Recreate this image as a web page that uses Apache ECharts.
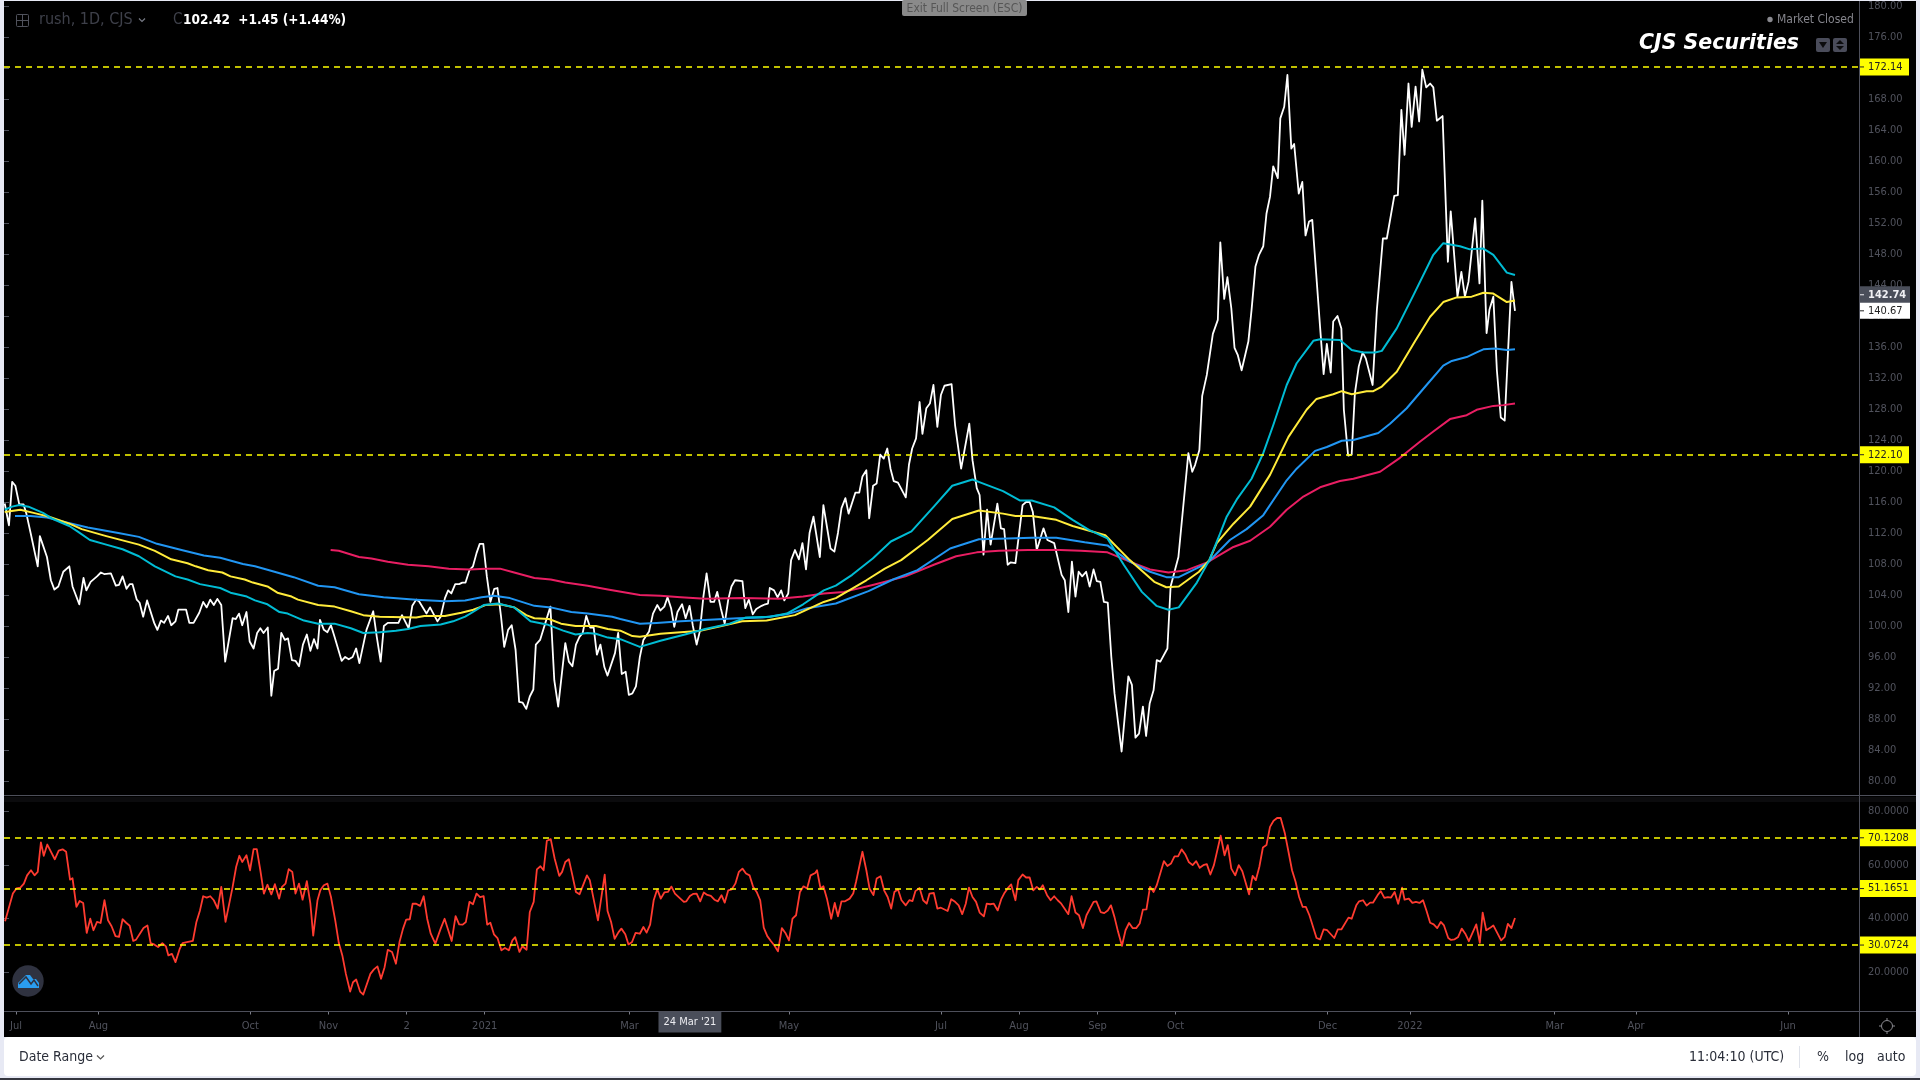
<!DOCTYPE html>
<html><head><meta charset="utf-8"><title>rush, 1D, CJS</title>
<style>html,body{margin:0;padding:0;background:#e7e9f4;overflow:hidden}#c{width:1920px;height:1080px}</style>
<script src="https://cdn.jsdelivr.net/npm/echarts@6/dist/echarts.min.js"></script></head>
<body><div id="c"></div>
<script>
// x unit: trading-day bar number
const tickBars=[3.4,26.6,69.4,91.4,113.4,135.4,176.2,193.2,221.1,263.9,285.9,308,330,372.8,396,436.8,459.7,502.5];
const tickLabels=["Jul","Aug","Oct","Nov","2","2021","Mar","24 Mar '21","May","Jul","Aug","Sep","Oct","Dec","2022","Mar","Apr","Jun"];
const priceTicks=[80,84,88,92,96,100,104,108,112,116,120,124,128,132,136,140,144,148,152,156,160,164,168,172,176,180];
const rsiTicks=[20,40,60,80];
const priceLevels=[172.14,122.10];
const rsiLevels=[70.1208,51.1651,30.0724];

const closeBars=[0.2,1.4,2.3,3.2,4.3,5.5,6.3,7.5,9.5,10.1,12.1,13.2,14.2,15.3,16.7,18.4,19.3,21.2,22.4,23.2,24.4,26.2,27.3,28.2,30.1,31.5,32.4,33.4,34.5,35.4,36.2,37.4,38.2,39.2,40.3,42.3,43.2,44.2,45.1,46.2,47.1,48.3,49.1,51.3,52.2,53.4,55,56.1,57.1,58.1,59.1,60.1,61.2,62.3,64.4,65.3,66.2,67.1,68.3,69.2,70.3,71.3,72.2,73.1,74.3,75.3,76.1,77.2,78.1,79.1,80,81.1,82.1,83.1,84.2,85.3,86.3,87.3,88.3,89,90.1,91.1,92.1,93.1,95.1,96.1,97.1,98.2,99.2,100.1,102.1,104,105,106.1,107,108.1,111.1,112.1,114,115,116.1,116.9,119,120,122.1,123,124.2,125.1,126,127.1,128.2,129.1,130,131.1,132.1,133.1,134,135,136,137,138.1,139,140,140.9,142,143,144.1,145.1,146.1,147.1,148.1,149.1,149.8,151,153.9,155,156.1,158.1,159.1,160.1,161.1,162.1,163,164,165.1,166.1,167,168,169.1,170,172.1,173,174,175.1,176,177,178,179.1,180.1,181.7,182.8,184,184.9,186,186.9,187.9,188.8,189.7,191,192,193.1,194,195.1,196,197,197.9,199,200,200.9,201.9,203,204,204.9,205.9,208,208.8,209.8,210.9,211.9,213.4,214.4,215.2,215.7,216.9,217.9,218.9,219.8,220.9,221.7,222.8,223.9,224.9,225.9,226.9,228,229.8,230.8,232.8,233.9,234.9,235.9,237,237.9,239.8,240.9,241.8,242.9,243.7,244.8,245.8,246.8,247.8,248.8,249.7,250.6,251.8,254,254.9,255.8,256.9,257.9,258.7,259.8,260.8,261.8,262.9,263.9,264.9,266.9,267.9,269.6,271.9,272.8,274,274.8,275.9,276.9,277.9,279.8,280.8,281.7,282.7,283.5,284.9,286.9,287.9,288.9,289.8,290.9,292.8,293.9,295.8,297.9,298.8,299.8,300.8,301.8,302.7,303.7,304.8,305.8,306.9,307.8,308.8,309.8,310.9,311.9,312.8,314.8,316.7,317.7,318.7,319.7,320.8,321.7,322.7,323.8,324.7,325.7,327.7,328.6,330.8,333.6,334.7,335.5,336.7,337.5,338.8,340.5,341.9,342.6,343.7,344.6,345.7,346.6,347.5,348.6,350.5,351.4,352.5,353.5,354.7,355.6,356.6,357.5,358.8,359.5,360.6,361.5,362.6,363.4,364.7,365.7,366.6,367.6,368.5,370.7,371.7,372.6,373.7,374.4,375.6,376.7,377.4,378.6,379.6,380.5,381.6,382.7,383.6,385.5,386.7,388.4,389.5,391.6,392.6,393.6,394.5,395.6,396.5,397.6,398.6,399.5,400.6,401.7,402.6,403.6,405.2,406.7,407.5,409.4,410.5,411.5,412.5,414.4,415.6,416.4,417.6,418.4,419.5,420.5,421.6,422.7,424.6,425.6];
const closeValues=[115.8,113,118.6,118.1,115.7,115.7,114.5,112,107.7,111.6,108.9,105.9,104.7,105.1,107,107.7,105.1,102.8,106.2,104.6,105.7,106.4,106.9,106.7,106.8,105.2,105.3,106.4,104.8,105.4,105.4,103.4,103,101.2,103.3,100.4,99.5,100.7,100.4,101.3,100.1,100.6,102.1,102.1,100.4,100.4,101.7,103.1,102.4,103.4,102.7,103.5,102.7,95.4,101,100.9,101.6,100.1,101.8,98,97.1,99.1,99.7,99.1,99.8,91,94.2,94.5,99.1,98.2,98.4,95.6,95.5,94.8,97.6,98.9,96.8,98.3,97.1,100.8,99.5,99.2,100.1,98.6,95.5,96,95.7,96,97.1,95.2,99.5,101.9,98.6,95.4,100,100.4,100.4,101.4,99.7,102.6,103.4,103.2,101.6,102.4,100.6,101.2,103.6,104.6,104.2,105.4,105.4,105.6,105.6,107.2,107.7,109.4,110.6,110.6,106.4,103.1,104.8,104.9,101.2,97.3,99.5,100.1,96.9,90.2,90.1,89.3,90.9,91.8,97.6,98.2,102.5,93,89.6,97.8,95.4,94.8,97.6,98.6,99.1,101.3,99.8,99.8,96.3,97.6,94.7,93.6,96.5,99.1,93.8,94.1,91.1,91.3,92.2,96,98.2,99.3,101.6,102.7,102,102.5,103.7,102.3,99.9,101.8,102.8,101,102.6,100.1,97.6,99.3,103.8,106.8,103.1,103.1,104.4,102.3,100.3,103.4,105.1,105.9,105.8,102.3,103.4,101.5,102.2,102.6,102.8,102.9,104.9,104.6,103.7,104.6,103.3,104.2,108.5,109.8,108.6,110.7,107.3,112,114.1,108.9,115.6,110,109.6,112,115.2,116.5,114.5,117.2,117.2,119.3,120.1,113.9,118.1,118.4,122.1,121.6,122.9,120.3,118.7,118.5,116.6,120.8,122.9,124.2,128.9,124.8,128.1,128.7,131.1,125.7,129.8,131,131.2,125.9,120.3,126.1,121.4,117.8,116.9,109.2,115,110.5,115.8,112.6,112.5,107.9,108.2,108.1,115.6,116,116,114.7,109.8,112.6,111.1,110.7,106.6,105.9,101.8,108.3,103.8,107,106.4,107,105.1,107.3,105.8,105.7,103.1,103,96,91.3,83.8,93.5,92.4,85.6,86.1,89.6,85.8,90,91.7,95.6,95.4,97.1,105.1,108.9,122.3,119.9,120.8,122.7,129.7,132.4,137.7,139.5,149.5,142.2,145,141,135.9,135,133,136.7,140.8,146.4,147.9,149,153.2,155.4,159.3,157.8,165.5,167,171.1,161.6,162.2,155.8,157.3,150.4,152.2,152.4,138.6,132.5,136.4,132.7,139.3,140,138.4,127.9,122,122.1,130,133.5,135.3,134.5,131.1,140.8,150,150,155.5,155.6,166.6,160.8,170,164.4,169.6,165.1,171.8,169.5,170,169.5,165.2,165.8,147,153.5,142.5,145.7,142.5,144.4,152.6,144.2,154.9,137.8,140.8,142.5,133,126.9,126.5,144.4,140.67];

const cyanBars=[0.2,2.3,4.3,6.9,11,13.8,18.4,20.7,24.2,28.8,33.4,38,42.5,48.3,51.7,55.2,60.9,63.8,68.4,70.7,74.2,77.6,79.9,84.5,88.5,93.1,97.7,101.2,105.8,110.4,113.8,117.3,123,126.5,129.9,132.8,135.1,139.1,143.7,148.3,152.9,157.5,161,164.4,166.7,170.1,173.6,179.1,184.9,191.8,197.5,204.4,209,215.9,220.5,225.1,230.9,234.3,238.9,244.7,249.8,255.6,261.9,267.1,272.8,275.1,281.4,286.1,289.5,295.8,301,305.6,310.8,315.4,320.5,324.6,328,330.9,336,339.5,342.5,344.4,347.2,351.4,354.7,357.5,361.3,364.1,368.8,370.7,376.3,379.6,382.9,386.2,388.1,392.3,397,402.6,405.4,410.1,412.9,416.7,419.5,423.3,425.6];
const cyanValues=[115,115.4,115.6,115.4,114.6,113.8,112.9,112.2,111.1,110.5,109.9,109,107.7,106.4,106,105.4,104.9,104.3,103.8,103.3,102.8,101.8,101.6,100.7,100.3,100.3,99.7,99.1,99.2,99.4,99.6,100,100.2,100.6,101.2,102,102.7,102.9,102.4,100.6,100.2,99.4,98.9,99.1,99,98.5,98.3,97.3,98.1,98.9,99.6,100.3,101.1,101.2,101.6,102.8,104.6,105.2,106.6,108.7,110.9,112.2,115.4,118.1,118.9,118.5,117.4,116.2,116.2,115.3,113.7,112.4,111.3,107.9,104.4,102.6,102.1,102.4,105.6,108.5,111.9,114.1,116.3,119,122.3,125.9,131.1,133.9,136.8,137,136.9,135.6,135.3,135.3,135.5,138.4,142.7,147.9,149.4,149,148.6,148.7,147.9,145.6,145.3];

const yellowBars=[0.2,4.6,9.2,12.7,18.4,21.9,28.8,38,42.5,47.1,51.7,54,57.5,61.5,63.8,67.8,70.1,74.2,77,81,82.8,88.5,93.1,97.7,101.2,105.8,116.1,118.4,124.2,128.8,132.2,135.6,139.7,143.7,147.1,149.4,153.5,156.9,161,166.7,170.1,173.6,177,179.1,184.9,190.6,196.4,202.1,207.9,214.8,222.8,230.9,234.3,242.9,248.1,252.7,260.2,267.1,274.6,281.4,284.9,289.5,296.4,301,310.2,317.1,324,327.4,330.9,336.6,339.5,341.6,346.3,351,356.6,361.8,366.9,369.7,374.4,376.8,379.6,383.8,385.7,388.1,392.3,397.4,401.7,405.4,409.2,413.4,416.7,419.5,423.3,425.6];
const yellowValues=[114.7,115,114.5,114.1,113.2,112.5,111.6,110.5,109.7,108.6,108.1,107.7,107.2,106.9,106.4,106,105.6,105.1,104.3,103.8,103.4,102.7,102.5,101.9,101.4,101.2,101.1,101.3,101.3,101.7,102.1,102.7,102.8,102.4,101.4,101,100.9,100.3,100,100,99.6,99.4,98.7,98.6,99,99.2,99.4,100,100.6,100.7,101.4,103.1,103.6,105.9,107.4,108.5,111.1,113.8,114.9,114.5,114.2,114.2,113.7,112.9,111.7,108.5,105.7,105,105.1,107,108.5,110.7,113.2,115.4,119.5,124.4,127.9,129.3,129.9,130.3,129.9,130.3,130.3,130.9,132.8,136.7,139.9,141.8,142.4,142.5,143,142.9,141.8,142];

const blueBars=[3.1,7.5,12.1,17.3,23.6,32.2,38,43.1,50,56.3,60.9,67.3,70.7,74.7,81.6,88.5,93.1,100,106.9,116.1,124.2,129.9,134.5,138,142.5,149.4,154,159.8,164.4,171.3,173.6,179.1,183.8,190.6,198.7,206.7,213.6,220.5,226.3,234.3,243.5,250.4,257.3,266.5,274.6,282.6,289.5,296.4,304.4,310.8,317.1,322.8,327.4,330.9,338.9,345.3,350,354.7,361.3,364.1,369.3,372.6,376.8,380.1,387.1,390.4,395.1,400.7,405.4,407.8,412,414.8,416.7,420,423.3,425.6];
const blueValues=[114.2,114.2,114,113.4,112.7,112,111.5,110.6,109.8,109.1,108.8,108,107.7,107.2,106.3,105.2,105,104.1,103.7,103.4,103.2,103.3,103.7,103.9,103.6,102.6,102.4,101.8,101.6,101.2,100.9,100.3,100.4,100.6,100.8,101,101.1,101.5,102.3,102.9,104.5,106,107.2,110,111.2,111.3,111.4,111.4,110.8,110.4,108.3,107,106.3,106.3,108.1,111.1,112.5,114.3,118.8,120.3,122.6,123.1,123.9,124,124.9,126.1,128.1,131.1,133.6,134.2,134.7,135.3,135.7,135.8,135.6,135.7];

const pinkBars=[92,94.3,100,103.5,108.1,113.8,119.6,125.3,131.1,135.6,139.7,143.7,149.4,154,158.1,164.4,170.1,179.1,184.9,190.6,197.5,207.9,218.2,225.1,230.9,236.6,244.7,253.9,261.9,268.2,274,280.3,288.4,297.5,303.3,310.8,317.1,322.8,328,333.2,338.9,346.3,351,356.6,361.3,366,370.7,376.3,380.1,387.6,393.2,398.9,402.6,407.3,412,414.8,419.5,422.3,425.6];
const pinkValues=[109.8,109.7,108.9,108.7,108.3,107.9,107.7,107.4,107.3,107.4,107.4,106.9,106.2,106,105.6,105.2,104.7,104,103.9,103.7,103.5,103.6,103.5,103.8,104.2,104.4,105.3,106.4,107.9,109,109.5,109.7,109.8,109.8,109.7,109.5,108.3,107.3,106.9,107.2,108.2,110.2,111,112.8,115,116.7,117.9,118.7,119,119.9,121.7,123.8,125.1,126.7,127.2,127.9,128.4,128.5,128.7];

const rsiBars=[0.3,2.5,3.5,4.6,5.6,6.5,7.6,8.6,9.5,10.4,11.2,12.2,14.3,15.4,16.5,17.5,18.6,19.3,20.4,21.3,22.3,23.3,24.3,25.2,26.2,27.2,28.3,29.3,30.3,31.4,32.4,33.4,34.4,35.4,36.4,37.2,38.4,39.3,40.4,41.3,42.4,43.4,44.6,45.6,46.3,47.3,48.3,49.5,50.3,51.5,53.2,54.2,55.2,56.1,57.1,58.1,59.1,60.2,61.2,62.4,64.4,65.4,66.3,67.1,68.3,69.3,70.3,71.2,72.2,73.2,74.2,75.3,76.3,77.5,78.3,79.3,80.2,81.2,82.1,83.1,84.1,85.3,86.3,87.1,88.3,89.1,90.1,91.1,92.1,93.3,94.3,95.3,96.3,97.5,98.3,99.2,100.3,101.2,103.2,104.2,105.2,106.2,107.2,108.1,109.3,110.4,111.4,112.4,113.3,114.3,115.1,116.1,117.2,118.2,119.2,120.2,121.5,123,124.1,126.1,127.2,128.2,129.2,130.1,131.1,132.1,133.1,134.1,135.1,136.1,137,138,139,140.1,141.1,142.2,143.2,144,145.2,146,147.2,148.1,149.2,150.1,151.1,152,152.9,154,155.1,156.4,157.2,158.1,159.1,160.1,161.1,162.1,164.2,165,167.3,169.2,170,171,172,173.1,173.9,175,175.9,176.9,177.9,179.1,180.1,181,182,183,184,185,186,187,188,189,190.2,191.5,192.2,193.2,194.2,195.1,196.1,197.1,198.1,199.1,200.1,201.1,202.1,203,204,205,206,207,208,209,210,211,212,213,214,215,216,217,218,219.1,220.1,221.1,222.1,223.1,224.2,225.2,226.2,227.2,228.5,229,230,230.8,231.8,233,234,234.9,235.9,236.9,238.2,239.2,240,241.8,242.9,243.8,244.9,245.8,246.9,247.9,248.9,249.9,250.8,251.8,252.8,254,255,255.9,256.7,257.9,258.9,259.9,260.7,261.9,262.9,263.9,265.8,266.8,267.9,268.9,269.9,270.9,271.8,272.8,273.8,274.8,276,276.8,277.8,278.8,279.9,280.9,281.7,282.7,283.7,284.9,285.7,286.9,287.9,288.9,289.9,290.9,291.8,292.6,293.8,294.8,295.8,296.8,297.8,299.8,300.7,301.8,302.8,303.9,304.9,306.9,307.7,308.9,309.9,310.9,311.8,312.8,313.8,314.9,315.9,316.9,317.9,318.9,319.9,320.8,321.8,322.8,323.8,324.7,326.7,327.7,328.7,329.7,330.7,331.7,332.7,333.7,334.8,335.8,336.8,337.8,338.8,339.8,340.8,342.7,343.8,344.7,345.7,346.8,347.8,348.8,350.7,351.7,352.6,353.6,354.6,355.6,356.6,357.6,358.6,359.6,360.8,361.8,362.8,363.8,364.8,365.8,366.7,367.7,369.7,370.7,371.7,372.7,374.7,375.7,376.7,378.7,379.6,380.9,381.7,382.8,383.8,384.8,385.6,386.9,387.8,388.8,389.8,390.7,391.7,392.7,393.8,394.5,395.7,396.7,397.7,398.7,399.7,400.7,401.7,402.7,403.7,404.7,405.6,406.8,407.6,408.6,409.6,410.6,411.6,412.6,414.7,415.7,416.5,417.5,418.5,419.5,421.7,422.7,423.6,424.6,425.6];
const rsiValues=[39,49.3,51.2,51.5,53,56.1,58,56.1,57.4,68.4,63.4,67.6,62.1,65.3,65.8,64.9,54.5,55,44.3,46.5,45.8,34.6,39.9,35.6,38.7,38.3,46.8,39.3,37.1,33.4,33.1,39.7,38.4,37.3,31.6,32.1,34.6,36.4,37.4,30.8,30.2,29.3,30.8,29.6,26.2,26.8,23.7,28.7,30.8,31.2,31.6,38.7,43,48.3,47.8,48.3,46.8,43.7,51.8,38.7,51.8,59.3,63.4,61.1,63.6,58,65.9,65.9,58,49.3,52.6,49,52.8,47.4,51.8,53,58.4,57.4,49.3,53,47,53.9,45.5,33.6,46.8,50.5,52.4,53,48,39.3,30.9,26.2,19.3,12.7,16.2,17.2,12.7,11.6,19.3,21,22.1,17.5,21.8,28.3,27.5,23.1,31.2,36.2,39.6,39.7,45.5,45.5,44.7,48.3,39.9,34.3,30.6,36.2,39.9,31.6,40.9,37.8,37.7,38.7,46.2,45.3,49.3,48,48.3,37.7,38.4,34.1,32.7,28.1,29,28.1,31.8,33,27.5,29.6,28.3,42.4,46.2,58.3,59.5,58,69,69.6,62.4,55.9,57.4,61.1,62.1,56.1,49.9,49,56.1,54.3,39.3,56.4,42.8,38.7,32.4,34.9,36.2,34.1,30.3,31.2,34.6,34.3,36.8,34.7,37.7,46.8,50.9,47.4,49.7,49.9,51.9,49.3,47.8,46.2,46.4,48.4,49.2,49.3,46.4,49.7,48.8,48.4,47,46.4,48.7,45.9,50.5,50.9,53,57.4,58.6,56.8,56.1,51.8,49.9,46.8,36.6,33.4,31.6,29.9,27.7,36.4,34.6,31.8,39.9,41.2,49.9,52,51.2,56.1,57,58,51.2,52,47.4,39.9,45.8,40.8,46.4,46.4,47.4,49.3,53.7,64.9,58,51.2,48.7,54.9,55.8,50.5,48,43.7,49.9,50.9,46.8,44.9,46.8,46.5,50.2,51.4,46.8,45.5,49.3,49.5,43.7,44,42.8,47.2,46.2,44.9,41.6,45.5,51.5,48,46.2,42.2,40.8,45.5,45.3,45.5,43,47.2,49.3,51.2,52.7,46.8,54.3,56.4,55.3,55.3,50.5,51.8,50.8,52.4,48.7,46.8,48.3,46.8,45.5,41.6,48.3,42.2,41.2,36.4,41.2,46.2,46.4,42.4,42,43,44.9,40.5,35,29.8,35.6,38.3,36.4,36.4,38.1,43.3,43.4,51.8,49.9,52.4,61.4,59.6,60.5,63.2,63.2,65.8,64,61.1,59.9,61.4,58.9,59.9,60.3,56.4,59.9,70.9,63.6,67.4,58.6,56.1,59.9,57.6,49,55.9,54.3,59.3,66.5,67.4,74.2,76.5,77.5,77.5,71.7,64.9,58,53.7,48,44.3,44.3,41.2,32.7,32.2,35.9,35.6,32.7,35.9,35.9,40.3,39.9,44.9,46.4,46.8,44.8,45.9,45.9,48.7,50.2,47.7,48,47.8,49.9,45.5,51.5,47,47.4,45.8,46.2,45.8,46.8,42.8,38.4,37.8,36.4,38.7,37.4,32.7,32,32.2,33.1,36.2,34.3,31.5,37.8,30.9,42.2,35.6,36.4,37.4,31.8,33.1,38,36.4,40.2];

const latestYellow=142.74, latestClose=140.67;
const zip=(a,b)=>a.map((x,i)=>[x,b[i]]);

const F="'DejaVu Sans Condensed','Noto Sans',sans-serif";
const AXC='#4d4f5a', TXT='#50525c', YEL='#ffff00', PANEL='#000';

function tagLabel(digits,bg,fg,bold,w,h,dash){
  return {show:true,position:'end',distance:0,formatter:p=>'{t|}{v|'+Number(p.value).toFixed(digits)+'}',
    backgroundColor:bg,width:w,height:h,lineHeight:h,padding:0,align:'left',verticalAlign:'middle',
    rich:{t:{width:5,height:1,lineHeight:1,backgroundColor:dash,verticalAlign:'middle'},
          v:{color:fg,fontWeight:bold?'bold':'normal',fontFamily:F,fontSize:11,height:h,lineHeight:h,padding:[0,0,0,4],verticalAlign:'middle'}}};
}
function levelLine(levels,digits,w){
  return {silent:true,symbol:'none',animation:false,precision:4,
    lineStyle:{color:YEL,type:[6,5],width:1.5},
    label:tagLabel(digits,YEL,'#222',false,w,17,'#222'),
    data:levels.map(v=>({yAxis:v}))};
}
function tags(items){
  return {silent:true,symbol:'none',animation:false,precision:2,lineStyle:{color:'transparent',width:1},
    label:tagLabel(2,'#fff','#222',false,51,17,'#222'),
    data:items.map(it=>({yAxis:it.v,lineStyle:{color:'transparent',width:1},label:tagLabel(2,it.bg,it.fg,it.bold,51,it.h,it.fg)}))};
}
function line(name,bars,vals,color,width,xi,extra){
  return Object.assign({name,type:'line',xAxisIndex:xi,yAxisIndex:xi,data:zip(bars,vals),showSymbol:false,symbol:'none',silent:true,animation:false,
    lineStyle:{color,width,join:'round'},itemStyle:{color}},extra||{});
}

// ---- page furniture ----
const txt=(text,x,y,font,fill,align)=>({type:'text',x,y,z:20,silent:true,style:{text,font,fill,textAlign:align||'left',textVerticalAlign:'middle'}});
const rect=(x,y,w,h,fill,z,r)=>({type:'rect',z:z==null?20:z,silent:true,shape:{x,y,width:w,height:h,r:r||0},style:{fill}});
const seg=(x1,y1,x2,y2,stroke,lw)=>({type:'line',z:20,silent:true,shape:{x1,y1,x2,y2},style:{stroke,lineWidth:lw||1}});
const poly=(points,fill)=>({type:'polygon',z:21,silent:true,shape:{points},style:{fill}});
const pl=(points,stroke,lw)=>({type:'polyline',z:22,silent:true,shape:{points},style:{stroke,lineWidth:lw,fill:null}});
const chrome=[
  rect(4,1,1912,1036,PANEL,-5),
  rect(4,1037,1912,39,'#ffffff',-4,4),
  rect(0,1078,1920,2,'#34363f',-4),
  rect(4,797,1912,5,'#0b0b0d',-4),
  seg(4,795.5,1916,795.5,AXC), seg(4,1011.5,1916,1011.5,AXC), seg(1859.5,1,1859.5,1037,AXC),
  // top-left legend
  {type:'rect',z:20,silent:true,shape:{x:16.5,y:14.5,width:12,height:12,r:1},style:{fill:null,stroke:'#50525c',lineWidth:1}},
  seg(22.5,15,22.5,26,'#50525c'), seg(17,20.5,28,20.5,'#50525c'),
  txt('rush, 1D, CJS',39,20,"16px "+F,'#3e404a'),
  pl([[139,18.5],[142,21.5],[145,18.5]],'#777a85',1.2),
  txt('C',173,20,"15px "+F,'#3e404a'),
  txt('102.42  +1.45 (+1.44%)',183,20,"bold 13.5px "+F,'#ffffff'),
  // exit tab
  rect(902,0,125,16,'#8a8a8a',30,2),
  {...txt('Exit Full Screen (ESC)',964.5,9,"12px "+F,'#565656','center'),z:31},
  // top-right
  {type:'circle',z:20,silent:true,shape:{cx:1770,cy:19.5,r:2.7},style:{fill:'#8a8a90'}},
  txt('Market Closed',1777,20,"12px "+F,'#85858c'),
  txt('CJS Securities',1639,44,"italic bold 20.5px 'DejaVu Sans',sans-serif",'#ffffff'),
  rect(1816,38,14,14,'#4a4c5a',20,2), rect(1833,38,14,14,'#4a4c5a',20,2),
  poly([[1819,42],[1827,42],[1823,48]],'#0c0c0e'),
  poly([[1836,44],[1844,44],[1840,40]],'#0c0c0e'), poly([[1836,46],[1844,46],[1840,50]],'#0c0c0e'),
  // logo
  {type:'circle',z:20,silent:true,shape:{cx:28,cy:981,r:15.7},style:{fill:'#2f3240'}},
  poly([[18,988],[18,983],[22,979],[26,975],[30,975],[33,979],[36,979],[39,983],[39,988]],'#2a9df0'),
  pl([[19,984],[26,977],[31,984],[34,980],[38,986]],'#2f3240',1.5),
  // gear
  {type:'circle',z:20,silent:true,shape:{cx:1887,cy:1026,r:5.5},style:{fill:null,stroke:'#8a8a90',lineWidth:1}},
  seg(1887,1018,1887,1020,'#8a8a90'),seg(1887,1032,1887,1034,'#8a8a90'),seg(1879,1026,1881,1026,'#8a8a90'),seg(1893,1026,1895,1026,'#8a8a90'),
  // bottom bar
  txt('Date Range',19,1057.5,"14px "+F,'#2a2e39'),
  pl([[97,1055.5],[100.5,1059],[104,1055.5]],'#555',1.2),
  txt('11:04:10 (UTC)',1689,1057.5,"14px "+F,'#2a2e39'),
  seg(1799.5,1046,1799.5,1068,'#e0e3eb'),
  txt('%',1817,1057.5,"14px "+F,'#2a2e39'),
  txt('log',1845,1057.5,"14px "+F,'#2a2e39'),
  txt('auto',1877,1057.5,"14px "+F,'#2a2e39')
];

const valueAxis=(idx,min,max,ticks,digits)=>({type:'value',gridIndex:idx,position:'right',min,max,scale:true,
  axisLine:{show:false},splitLine:{show:false},
  axisTick:{show:true,length:5,customValues:ticks,lineStyle:{color:AXC}},
  axisLabel:{show:true,customValues:ticks,margin:9,padding:[2,0,0,0],color:TXT,fontFamily:F,fontSize:11,formatter:v=>Number(v).toFixed(digits)}});

const chart=echarts.init(document.getElementById('c'),null,{renderer:'canvas',width:1920,height:1080});
chart.setOption({
  animation:false,backgroundColor:'#e7e9f4',
  grid:[{left:4,right:61,top:2,height:793},{left:4,right:61,top:797,height:214.5}],
  xAxis:[
    {type:'value',gridIndex:0,min:0,max:522.5,show:false,splitLine:{show:false}},
    {type:'value',gridIndex:1,min:0,max:522.5,position:'bottom',splitLine:{show:false},axisLine:{show:false},
     axisTick:{show:true,length:3,customValues:tickBars,lineStyle:{color:'#7a7c86'}},
     axisLabel:{show:true,customValues:tickBars,margin:0,
       formatter:v=>{const t=tickLabels[tickBars.indexOf(v)]||'';return (t.includes("'")?'{hl|':'{n|')+t+'}';},
       rich:{n:{color:TXT,fontFamily:F,fontSize:11,padding:[9,0,0,0]},
             hl:{backgroundColor:'#4a4e5a',color:'#ececf0',fontFamily:F,fontSize:11,padding:[5,5,5,5]}}}}
  ],
  yAxis:[valueAxis(0,78.19,180.52,priceTicks,2),valueAxis(1,5.26,85.35,rsiTicks,4)],
  series:[
    line('Close',closeBars,closeValues,'#ffffff',1.8,0,{z:3,markLine:levelLine(priceLevels,2,50)}),
    line('MA pink',pinkBars,pinkValues,'#e91e63',2,0),
    line('MA blue',blueBars,blueValues,'#2196f3',2,0),
    line('MA yellow',yellowBars,yellowValues,'#ffeb3b',2,0),
    line('MA cyan',cyanBars,cyanValues,'#00bcd4',2,0,{markLine:tags([
      {v:latestYellow,bg:'#4a4e5a',fg:'#f0f0f4',bold:true,h:17},
      {v:latestClose,bg:'#ffffff',fg:'#222',bold:false,h:16}])}),
    line('RSI',rsiBars,rsiValues,'#ff3b30',1.8,1,{markLine:levelLine(rsiLevels,4,57)})
  ],
  graphic:chrome
});
</script></body></html>
